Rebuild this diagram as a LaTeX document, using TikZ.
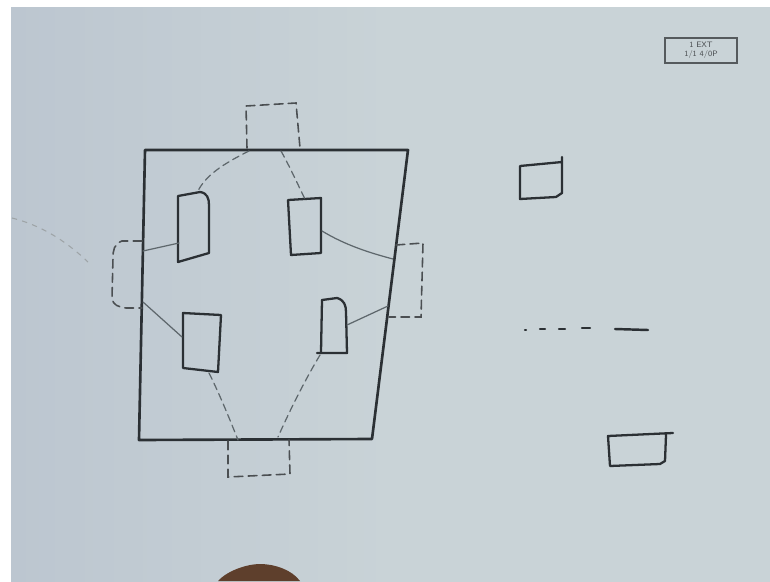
\documentclass[tikz,border=0pt]{standalone}
\usetikzlibrary{calc}
\definecolor{board}{HTML}{C9D3D7}
\definecolor{boardleft}{HTML}{BCC6D0}
\definecolor{ink}{HTML}{2B3034}
\definecolor{inkfaint}{HTML}{5E676C}
\definecolor{skin}{HTML}{5E3F2C}
\tikzset{
  frame/.style={draw=ink, line width=1.5pt, line join=round, line cap=round},
  room/.style={draw=ink, line width=1.3pt, line join=round, line cap=round},
  link/.style={draw=inkfaint, line width=0.7pt, line cap=round},
  dlink/.style={draw=inkfaint, line width=0.7pt, line cap=round, dash pattern=on 4pt off 2.5pt},
  dbox/.style={draw=ink!85, line width=0.9pt, line cap=round, dash pattern=on 5pt off 3pt},
}
\begin{document}
\begin{tikzpicture}[x=0.02cm,y=-0.02cm]
% canvas and board
\useasboundingbox (0,0) rectangle (770,581);
\fill[white] (0,0) rectangle (770,581);
\shade[left color=boardleft, right color=board, middle color=board] (11,8) rectangle (770,581);

% faint smudge at the left edge
\draw[inkfaint!60, line width=0.6pt, dash pattern=on 3pt off 3pt] (12,218) .. controls (40,225) and (65,240) .. (88,262);

% outer plan outline
\coordinate (TL) at (145,150);
\coordinate (TR) at (408,150);
\coordinate (BR) at (372,439);
\coordinate (BL) at (139,440);
\draw[frame] (TL) -- (TR) -- (BR) -- (BL) -- cycle;

% four inner blocks
\draw[room] (178,196) -- (200,192) .. controls (207,193) and (209,198) .. (209,205) -- (209,253) -- (178,262) -- cycle;
\draw[room] (288,200) -- (321,198) -- (321,253) -- (291,255) -- cycle;
\draw[room] (183,313) -- (221,315) -- (218,372) -- (183,368) -- cycle;
\draw[room] (322,300) -- (337,298) .. controls (344,300) and (346,305) .. (346,312) -- (347,353) -- (317,353);
\draw[room] (322,300) -- (321,352);

% dashed annexes on the four sides
\draw[dbox] (247,148) -- (246,106) -- (296,103) -- (300,148);
\draw[dbox] (142,241) -- (122,241) .. controls (114,244) and (113,250) .. (113,258) -- (112,298) .. controls (113,305) and (118,307) .. (126,308) -- (142,308);
\draw[dbox] (396,245) -- (423,243) -- (421,317) -- (389,317);
\draw[dbox] (228,441) -- (228,477) -- (290,474) -- (289,440);

% links between blocks and annexes
\draw[dlink] (249,151) .. controls (225,163) and (205,175) .. (197,193);
\draw[dlink] (281,151) .. controls (290,167) and (298,185) .. (305,199);
\draw[link] (143,251) -- (179,243);
\draw[link] (143,302) -- (182,337);
\draw[link] (322,231) .. controls (345,245) and (370,253) .. (393,259);
\draw[link] (347,325) -- (388,306);
\draw[dlink] (209,373) .. controls (220,395) and (230,420) .. (238,440);
\draw[dlink] (320,355) .. controls (305,380) and (290,410) .. (278,437);

% right-hand column: two small blocks and a dashed line
\draw[room] (562,157) -- (562,193) -- (556,197) -- (520,199) -- (520,166) -- (562,162);
\draw[ink, line width=1.4pt, line cap=round] (525,330) -- (526,330);
\draw[ink, line width=1.4pt, line cap=round] (540,329) -- (545,329);
\draw[ink, line width=1.4pt, line cap=round] (559,329) -- (565,329);
\draw[ink, line width=1.4pt, line cap=round] (582,328) -- (590,328);
\draw[ink, line width=1.4pt, line cap=round] (615,329) -- (648,330);
\draw[room] (673,433) -- (608,436) -- (610,466) -- (660,464) -- (665,461) -- (666,435);

% small label box in the corner
\draw[ink!80, line width=0.7pt] (665,38) rectangle (737,63);
\node[font=\fontsize{4.5}{5}\selectfont\sffamily, text=ink!85, align=center, inner sep=0pt] (tag) at (701,50.5) {1 EXT\\1/1 4/0P};

% head of a passer-by at the bottom edge
\fill[skin] (218,581) .. controls (228,570) and (248,564) .. (260,564) .. controls (275,564) and (292,570) .. (300,581) -- cycle;
\end{tikzpicture}
\end{document}
